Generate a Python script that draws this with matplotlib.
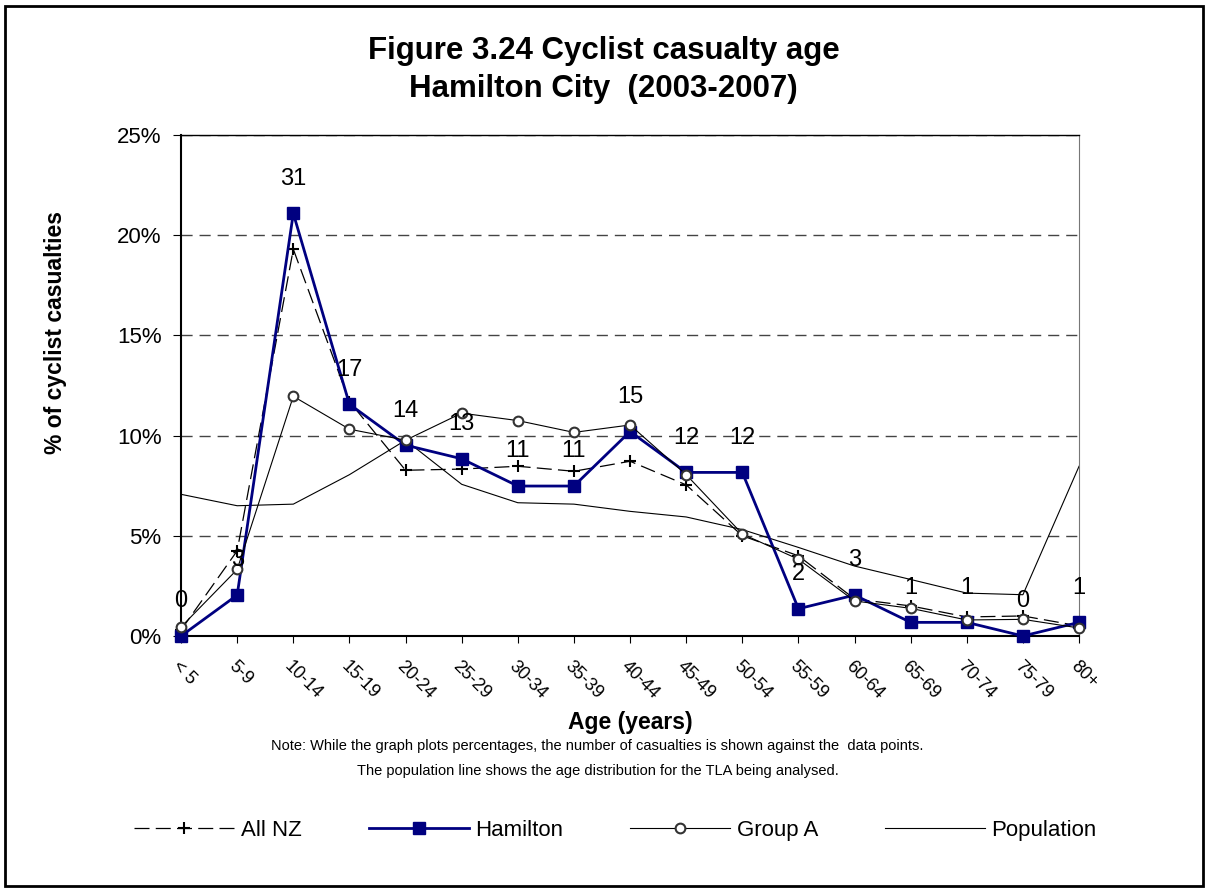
import matplotlib
matplotlib.use("Agg")
import matplotlib.pyplot as plt
import matplotlib.ticker as ticker
from matplotlib.patches import Rectangle

plt.rcParams['font.family'] = ['Liberation Sans', 'DejaVu Sans']

# age bands and series (% of cyclist casualties)
age_groups = ['< 5', '5-9', '10-14', '15-19', '20-24', '25-29', '30-34', '35-39',
              '40-44', '45-49', '50-54', '55-59', '60-64', '65-69', '70-74',
              '75-79', '80+']
hamilton_counts = [0, 3, 31, 17, 14, 13, 11, 11, 15, 12, 12, 2, 3, 1, 1, 0, 1]
all_nz = [0.3, 4.25, 19.3, 11.7, 8.27, 8.33, 8.47, 8.22, 8.72, 7.54, 5.0,
          4.0, 1.85, 1.5, 0.95, 1.0, 0.5]
group_a = [0.45, 3.32, 11.96, 10.32, 9.77, 11.12, 10.75, 10.16, 10.53, 8.05,
           5.09, 3.83, 1.75, 1.38, 0.8, 0.83, 0.4]
population = [7.07, 6.5, 6.58, 8.05, 9.77, 7.57, 6.65, 6.58, 6.22, 5.94, 5.31,
              4.42, 3.49, 2.82, 2.14, 2.06, 8.47]


def main():
    total = sum(hamilton_counts)
    hamilton = [c / total * 100 for c in hamilton_counts]
    x = list(range(len(age_groups)))

    fig = plt.figure(figsize=(12.07, 8.9), dpi=100)
    # outer frame
    fig.patches.append(Rectangle((0.004, 0.005), 0.993, 0.988, transform=fig.transFigure,
                                 fill=False, edgecolor='black', linewidth=2))
    ax = fig.add_axes([0.15, 0.2854, 0.744, 0.5629])

    ax.plot(x, all_nz, color='black', linewidth=0.9, dashes=(12, 5), marker='+',
            markersize=9, markeredgewidth=1.5, label='All NZ', clip_on=False, zorder=3)
    ax.plot(x, hamilton, color='#000080', linewidth=2, marker='s', markersize=9,
            label='Hamilton', clip_on=False, zorder=4)
    ax.plot(x, group_a, color='black', linewidth=0.8, marker='o', markersize=7,
            markerfacecolor='white', markeredgecolor='#333333', markeredgewidth=1.5,
            label='Group A', clip_on=False, zorder=5)
    ax.plot(x, population, color='black', linewidth=0.8, label='Population',
            clip_on=False, zorder=2)

    # casualty counts above the Hamilton points
    for xi, yi, c in zip(x, hamilton, hamilton_counts):
        ax.annotate(str(c), (xi, yi), xytext=(0, 17), textcoords='offset points',
                    ha='center', va='bottom', fontsize=17, zorder=6)

    ax.set_xlim(0, len(age_groups) - 1)
    ax.set_ylim(0, 25)
    ax.set_yticks(range(0, 26, 5))
    ax.yaxis.set_major_formatter(ticker.FuncFormatter(lambda v, pos: f'{int(v)}%'))
    ax.tick_params(axis='y', labelsize=16, direction='out', length=6, pad=8)
    ax.set_xticks(x)
    ax.set_xticklabels(age_groups, rotation=-45, ha='left', va='top',
                       rotation_mode='anchor', fontsize=13)
    ax.tick_params(axis='x', direction='out', length=5, pad=11)
    ax.grid(axis='y', linestyle=(0, (8, 5)), color='#444444', linewidth=1)
    ax.set_axisbelow(True)
    for side in ['left', 'bottom']:
        ax.spines[side].set_linewidth(1.5)
    ax.spines['top'].set_linewidth(1)
    ax.spines['right'].set_color('#777777')

    ax.set_xlabel('Age (years)', fontsize=16.5, fontweight='bold', labelpad=6)
    fig.text(0.046, 0.626, '% of cyclist casualties', rotation=90, ha='center',
             va='center', fontsize=16.5, fontweight='bold')

    fig.text(0.5, 0.943, 'Figure 3.24 Cyclist casualty age', ha='center', va='center',
             fontsize=22.5, fontweight='bold')
    fig.text(0.5, 0.900, 'Hamilton City  (2003-2007)', ha='center', va='center',
             fontsize=22.5, fontweight='bold')
    fig.text(0.495, 0.162, 'Note: While the graph plots percentages, the number of '
             'casualties is shown against the  data points.', ha='center', va='center',
             fontsize=10.5)
    fig.text(0.495, 0.134, 'The population line shows the age distribution for the '
             'TLA being analysed.', ha='center', va='center', fontsize=10.5)

    fig.legend(loc='center', bbox_to_anchor=(0.51, 0.067), ncol=4, frameon=False,
               fontsize=16, handlelength=4.5, columnspacing=3.0, handletextpad=0.3)

    fig.savefig('out.png', dpi=100)


if __name__ == "__main__":
    main()
